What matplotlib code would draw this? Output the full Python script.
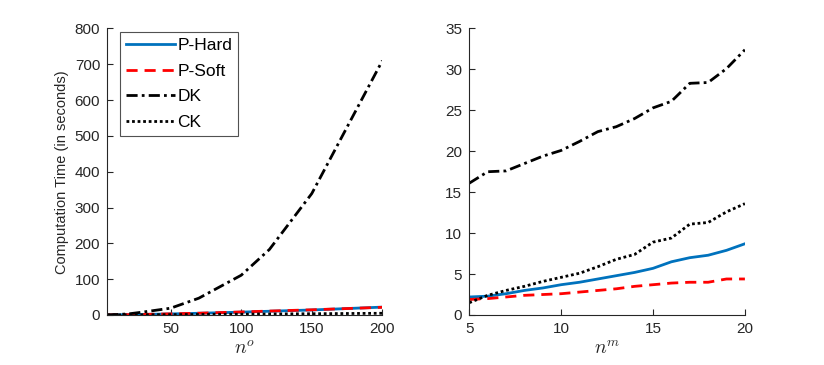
import matplotlib
matplotlib.use("Agg")
import matplotlib.pyplot as plt

plt.rcParams['font.family'] = ['Liberation Sans', 'DejaVu Sans']
plt.rcParams['mathtext.fontset'] = 'cm'

# Left panel: n^o
x_left = [5, 10, 20, 30, 50, 70, 100, 120, 150, 200]
dk_left = [0.2, 1, 3, 8, 19, 47, 111, 183, 339, 710]
phard_left = [0.2, 0.4, 0.9, 1.5, 3.0, 4.8, 8.0, 10.5, 14.0, 22.0]
psoft_left = [0.2, 0.4, 1.0, 1.6, 3.2, 5.0, 8.5, 11.0, 14.5, 21.5]
ck_left = [0.1, 0.2, 0.4, 0.6, 1.0, 1.5, 2.2, 2.8, 3.5, 4.8]

# Right panel: n^m
x_right = list(range(5, 21))
dk_right = [16.1, 17.5, 17.6, 18.5, 19.4, 20.1, 21.2, 22.4, 23.0, 24.0, 25.3, 26.1, 28.3, 28.4, 30.1, 32.4]
ck_right = [1.5, 2.4, 3.0, 3.5, 4.1, 4.6, 5.1, 5.9, 6.8, 7.4, 8.9, 9.4, 11.1, 11.3, 12.6, 13.6]
phard_right = [2.2, 2.3, 2.6, 3.0, 3.3, 3.7, 4.0, 4.4, 4.8, 5.2, 5.7, 6.5, 7.0, 7.3, 7.9, 8.7]
psoft_right = [1.9, 2.0, 2.2, 2.4, 2.5, 2.6, 2.8, 3.0, 3.2, 3.5, 3.7, 3.9, 4.0, 4.0, 4.4, 4.4]

labels = ['P-Hard', 'P-Soft', 'DK', 'CK']
blue = '#0072BD'
gray = '#262626'

fig = plt.figure(figsize=(8.24, 3.65), dpi=100)
axL = fig.add_axes([0.130, 0.137, 0.334, 0.785])
axR = fig.add_axes([0.5695, 0.137, 0.3345, 0.785])

def draw(ax, x, ph, ps, dk, ck):
    ax.plot(x, ph, color=blue, lw=2, ls='-', label=labels[0])
    ax.plot(x, ps, color='red', lw=2, ls=(0, (4, 2.5)), label=labels[1])
    ax.plot(x, dk, color='black', lw=2, ls=(0, (4, 1.5, 1, 1.5)), label=labels[2])
    ax.plot(x, ck, color='black', lw=2, ls=(0, (1, 1)), label=labels[3])
    for s in ['top', 'right']:
        ax.spines[s].set_visible(False)
    for s in ['left', 'bottom']:
        ax.spines[s].set_color(gray)
        ax.spines[s].set_linewidth(0.8)
    ax.tick_params(direction='in', colors=gray, labelsize=11, length=4, width=0.8, pad=5)

draw(axL, x_left, phard_left, psoft_left, dk_left, ck_left)
axL.set_xlim(5, 200)
axL.set_ylim(0, 800)
axL.set_xticks([50, 100, 150, 200])
axL.set_yticks(range(0, 801, 100))
axL.set_xlabel(r'$n^o$', fontsize=14, color=gray, labelpad=3)
axL.set_ylabel('Computation Time (in seconds)', fontsize=10.5, color=gray, labelpad=4)
leg = axL.legend(loc='upper left', bbox_to_anchor=(0.035, 1.0), fontsize=12.5, frameon=True,
                 fancybox=False, edgecolor='#262626', handlelength=2.8, handletextpad=0.15,
                 borderpad=0.35, labelspacing=0.6, borderaxespad=0.2)
leg.get_frame().set_linewidth(0.8)

draw(axR, x_right, phard_right, psoft_right, dk_right, ck_right)
axR.set_xlim(5, 20)
axR.set_ylim(0, 35)
axR.set_xticks([5, 10, 15, 20])
axR.set_yticks(range(0, 36, 5))
axR.set_xlabel(r'$n^m$', fontsize=14, color=gray, labelpad=3)

fig.savefig('out.png', dpi=100)
